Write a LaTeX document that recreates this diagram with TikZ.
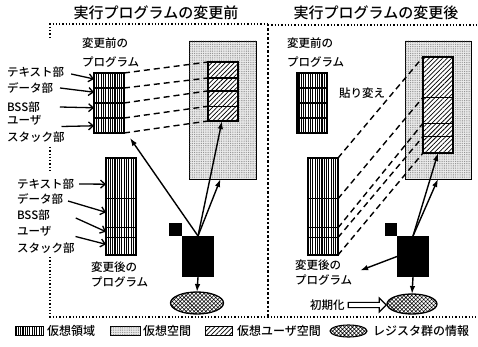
\documentclass[tikz,border=0pt]{standalone}
\usepackage{fontspec}
\newfontfamily\jp{Noto Sans CJK JP Medium}
\usetikzlibrary{patterns,patterns.meta,shapes.arrows,shapes.geometric,arrows.meta,calc}
\newcommand\hdivs[2]{\foreach \f in {#2}{\draw[line width=1.3pt] ($(#1.north west)!\f!(#1.south west)$) -- ($(#1.north east)!\f!(#1.south east)$);}}
\begin{document}
\begin{tikzpicture}[x=1pt,y=-1pt,
  every node/.style={inner sep=0pt,outer sep=0pt},
  lbl/.style={font=\jp\fontsize{11.5}{17}\selectfont, align=left, anchor=west},
  lgt/.style={font=\jp\fontsize{12}{14}\selectfont, anchor=west},
  ttl/.style={font=\jp\fontsize{15}{17}\selectfont},
  prog/.style={draw, line width=1.3pt, minimum width=30pt, preaction={fill=white}, pattern={Lines[angle=90,distance=2.3pt,line width=1.15pt]}},
  vspace/.style={draw, line width=0.9pt, fill=black!8, postaction={pattern={Dots[distance=1.8pt,radius=0.45pt]}, pattern color=black!55}},
  uspace/.style={draw, line width=1.3pt, minimum width=30pt, preaction={fill=white}, pattern={Lines[angle=45,distance=3.2pt,line width=0.75pt]}},
  reg/.style={ellipse, draw, line width=1.3pt, preaction={fill=white}, pattern={Hatch[angle=45,distance=2.8pt,line width=0.55pt]}},
  blk/.style={fill=black},
  frame/.style={dotted, line width=1.3pt},
  dline/.style={dash pattern=on 6pt off 4pt, line width=1.4pt},
  sarrow/.style={line width=1.4pt, -{Latex[length=8pt,width=5.5pt]}},
  larrow/.style={line width=1.3pt, -{Straight Barb[length=4.5pt,width=8pt]}},
]
\useasboundingbox (0,0) rectangle (478,347);

% frames
\draw[frame] (50,38) -- (50,24) -- (268,24);
\draw[frame] (50,147) -- (50,172);
\draw[frame] (50,257) -- (50,317) -- (478,317);
\draw[frame] (268,25) -- (478,25);
\draw[dotted, line width=2.4pt] (268,24) -- (268,317);

% titles
\node[ttl] (t1) at (156,13) {実行プログラムの変更前};
\node[ttl] (t2) at (376,13) {実行プログラムの変更後};

% ---------- left panel ----------
\node[prog, minimum height=60pt] (bpL) at (109,103) {};
\hdivs{bpL}{0.25,0.5,0.75}
\node[vspace, minimum width=67pt, minimum height=138pt] (vsL) at (222.5,110) {};
\node[uspace, minimum height=59pt] (hL) at (223,91.5) {};
\hdivs{hL}{0.27,0.49,0.75}
\node[prog, minimum height=97pt] (apL) at (121,206.5) {};
\hdivs{apL}{0.42,0.72,0.82}
\node[blk, minimum size=13pt] (sqL) at (175.5,229.5) {};
\node[blk, minimum width=32pt, minimum height=41pt] (cpuL) at (198,256.5) {};
\node[reg, minimum width=53pt, minimum height=22pt] (elL) at (197,303) {};

\node[lbl, font=\jp\fontsize{11.5}{19}\selectfont] (bpLt) at (82,52.5) {変更前の\\プログラム};
\node[lbl, font=\jp\fontsize{11.5}{15}\selectfont] (apLt) at (91,274.5) {変更後の\\プログラム};

\node[lbl] (lT1) at (7,72) {テキスト部};
\node[lbl] (lD1) at (7,88) {データ部};
\node[lbl] (lB1) at (7,107) {BSS部};
\node[lbl] (lU1) at (7,128.5) {ユーザ\\スタック部};
\node[lbl] (lT2) at (17,184) {テキスト部};
\node[lbl] (lD2) at (17,199) {データ部};
\node[lbl] (lB2) at (17,215) {BSS部};
\node[lbl] (lU2) at (17,239.5) {ユーザ\\スタック部};

\draw[larrow] ([shift={(7,2)}]lT1.east) -- ($(bpL.north west)!0.1!(bpL.south west)$);
\draw[larrow] ([xshift=7pt]lD1.east) -- ($(bpL.north west)!0.32!(bpL.south west)$);
\draw[larrow] ([xshift=20pt]lB1.east) -- ($(bpL.north west)!0.58!(bpL.south west)$);
\draw[larrow] ([shift={(-3,-2)}]lU1.east) -- ($(bpL.north west)!0.88!(bpL.south west)$);
\draw[larrow] ([xshift=5pt]lT2.east) -- ($(apL.north west)!0.27!(apL.south west)$);
\draw[larrow] ([shift={(5,2)}]lD2.east) -- ($(apL.north west)!0.56!(apL.south west)$);
\draw[larrow] ([shift={(26,3)}]lB2.east) -- ($(apL.north west)!0.76!(apL.south west)$);
\draw[larrow] ([shift={(1,-3)}]lU2.east) -- ($(apL.north west)!0.89!(apL.south west)$);

\draw[dline] (bpL.north east) -- (hL.north west);
\draw[dline] ($(bpL.north east)!0.25!(bpL.south east)$) -- ($(hL.north west)!0.27!(hL.south west)$);
\draw[dline] ($(bpL.north east)!0.5!(bpL.south east)$) -- ($(hL.north west)!0.49!(hL.south west)$);
\draw[dline] ($(bpL.north east)!0.75!(bpL.south east)$) -- ($(hL.north west)!0.75!(hL.south west)$);
\draw[dline] (bpL.south east) -- (hL.south west);

\draw[sarrow] (cpuL.north) -- ([shift={(6,5)}]bpL.south east);
\draw[sarrow] (cpuL.north) -- ([xshift=-1pt]hL.south);
\draw[sarrow] (cpuL.north) -- ([xshift=-2pt]vsL.south);
\draw[sarrow] (cpuL.south) -- (elL.north);

% ---------- right panel ----------
\node[prog, minimum height=60pt] (bpR) at (312,103) {};
\hdivs{bpR}{0.25,0.5,0.75}
\node[vspace, minimum width=66pt, minimum height=138pt] (vsR) at (438,110) {};
\node[uspace, minimum height=96pt] (hR) at (438,105) {};
\hdivs{hR}{0.42,0.69,0.83}
\node[prog, minimum height=97pt] (apR) at (323,206.5) {};
\hdivs{apR}{0.42,0.72,0.82}
\node[blk, minimum size=12.5pt] (sqR) at (391,229.5) {};
\node[blk, minimum width=32pt, minimum height=41pt] (cpuR) at (413,256.5) {};
\node[reg, minimum width=50pt, minimum height=20pt] (elR) at (412,304) {};

\node[lbl, font=\jp\fontsize{11.5}{19}\selectfont] (bpRt) at (287,52.5) {変更前の\\プログラム};
\node[lbl, font=\jp\fontsize{11.5}{15}\selectfont] (apRt) at (295,272.5) {変更後の\\プログラム};
\node[lbl] (paste) at (339,93) {貼り変え};
\node[lbl] (init) at (310,305) {初期化};
\node[single arrow, draw, line width=1.2pt, fill=white, minimum height=38pt, minimum width=14pt, single arrow head extend=3.5pt, inner sep=1.5pt] (fa) at (366,305) {};

\draw[dline] (apR.north east) -- (hR.north west);
\draw[dline] ($(apR.north east)!0.42!(apR.south east)$) -- ($(hR.north west)!0.42!(hR.south west)$);
\draw[dline] ($(apR.north east)!0.72!(apR.south east)$) -- ($(hR.north west)!0.69!(hR.south west)$);
\draw[dline] ($(apR.north east)!0.82!(apR.south east)$) -- ($(hR.north west)!0.83!(hR.south west)$);
\draw[dline] (apR.south east) -- (hR.south west);

\draw[sarrow] (cpuR.north) -- (hR.south);
\draw[sarrow] (cpuR.north) -- (vsR.south);
\draw[sarrow] (cpuR.west) -- ([shift={(8,-2)}]apRt.east);
\draw[sarrow] (cpuR.south) -- (elR.north);

% ---------- legend ----------
\node[prog, minimum width=28pt, minimum height=9pt, line width=0.9pt] (lg1) at (29,331) {};
\node[lgt] (lg1t) at (47,331) {仮想領域};
\node[vspace, minimum width=30pt, minimum height=9pt] (lg2) at (125,331) {};
\node[lgt] (lg2t) at (143,331) {仮想空間};
\node[uspace, minimum width=27pt, minimum height=9pt, line width=0.9pt] (lg3) at (218.5,331) {};
\node[lgt] (lg3t) at (237,331) {仮想ユーザ空間};
\node[reg, minimum width=37pt, minimum height=12pt, line width=1.1pt] (lg4) at (348.5,331) {};
\node[lgt] (lg4t) at (373,331) {レジスタ群の情報};
\end{tikzpicture}
\end{document}
